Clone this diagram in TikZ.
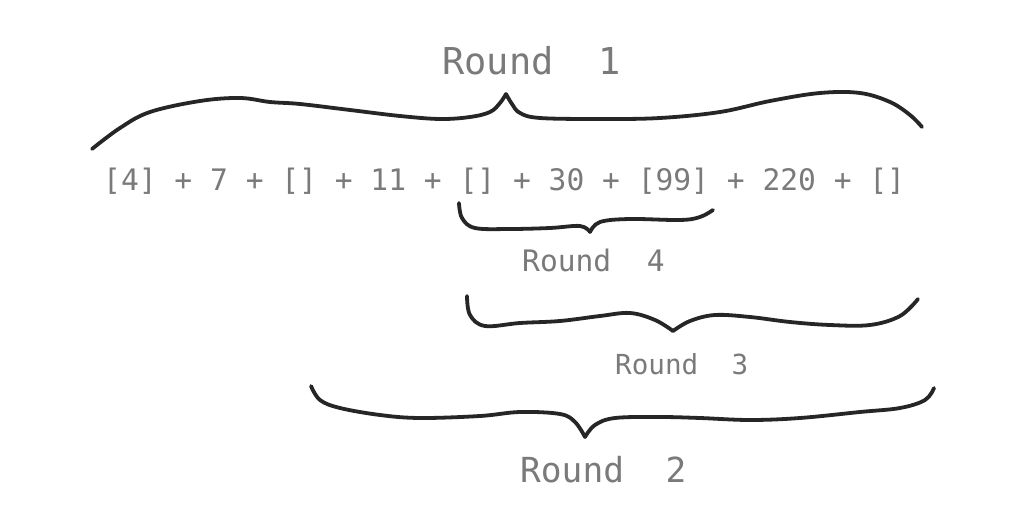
\documentclass[tikz,border=0pt]{standalone}
\usepackage{fontspec}
\setmonofont{DejaVu Sans Mono}
\begin{document}
\begin{tikzpicture}[x=1pt,y=-1pt,
    hand/.style={line width=3.8pt, line cap=round, line join=round, black!85},
    lbl/.style={text=black!52, inner sep=0pt, anchor=base west}]
  \useasboundingbox (0,0) rectangle (1024,518);
  \fill[white] (0,0) rectangle (1024,518);
  \draw
    (103,191) node[lbl, font=\ttfamily\fontsize{29.6}{30}\selectfont] (seq){[4] + 7 + [] + 11 + [] + 30 + [99] + 220 + []}
    (442,75) node[lbl, font=\ttfamily\fontsize{37}{40}\selectfont] (r1){Round~~1}
    (522,272) node[lbl, font=\ttfamily\fontsize{29.6}{30}\selectfont] (r4){Round~~4}
    (615,374) node[lbl, font=\ttfamily\fontsize{27.6}{28}\selectfont] (r3){Round~~3}
    (520,482) node[lbl, font=\ttfamily\fontsize{34.5}{36}\selectfont] (r2){Round~~2};
  \begin{scope}[hand]
    % round 1
    \draw plot[smooth, tension=0.6] coordinates {(92,149) (120,128) (150,112) (200,101)
      (240,98) (270,102) (300,104) (350,110) (400,116) (440,119) (470,117) (490,112) (500,103) (506,94)};
    \draw plot[smooth, tension=0.6] coordinates {(506,94) (512,104) (520,113) (540,118)
      (600,119) (660,118) (720,112) (770,101) (820,93) (860,93) (890,102) (910,115) (922,127)};
    % round 4
    \draw plot[smooth, tension=0.6] coordinates {(459,203) (462,218) (475,228) (510,229)
      (550,228) (580,226) (590,232)};
    \draw plot[smooth, tension=0.6] coordinates {(590,232) (600,222) (630,219) (680,220)
      (700,217) (713,210)};
    % round 3
    \draw plot[smooth, tension=0.6] coordinates {(467,296) (470,315) (485,326) (520,323)
      (560,321) (600,316) (630,313) (655,320) (673,331)};
    \draw plot[smooth, tension=0.6] coordinates {(673,331) (690,321) (715,315) (750,317)
      (790,322) (830,325) (870,325) (900,316) (918,299)};
    % round 2
    \draw plot[smooth, tension=0.6] coordinates {(311,386) (320,400) (340,408) (380,415)
      (420,418) (480,416) (520,412) (560,414) (575,422) (585,437)};
    \draw plot[smooth, tension=0.6] coordinates {(585,437) (595,425) (615,418) (660,417)
      (700,418) (750,420) (800,418) (860,412) (900,408) (925,400) (934,388)};
  \end{scope}
\end{tikzpicture}
\end{document}
